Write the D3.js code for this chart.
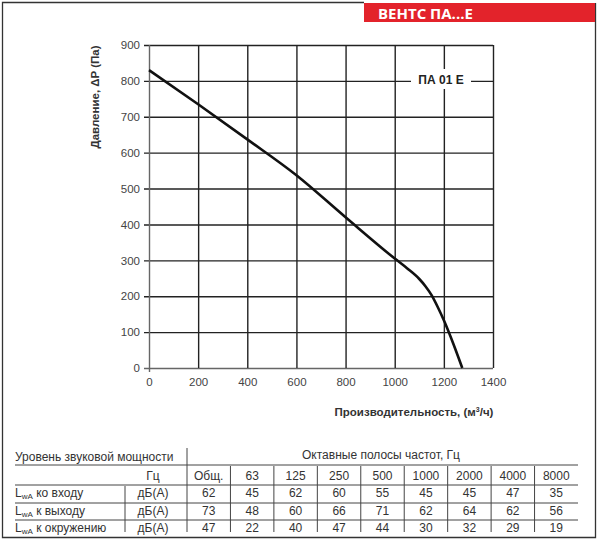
<!DOCTYPE html>
<html>
<head>
<meta charset="utf-8">
<script src="https://cdn.jsdelivr.net/npm/d3@7"></script>
<style>
  body { margin: 0; background: #fff; }
  text { font-family: "Liberation Sans", Arial, sans-serif; }
</style>
</head>
<body>
<div id="chart"></div>
<script>
// curve data
let flow = [0, 200, 400, 600, 800, 1000, 1050, 1100, 1125, 1150, 1175, 1200, 1240, 1275];
let pressure = [830, 735, 637, 537, 420, 305, 278, 248, 228, 203, 170, 133, 65, 0];
let xTicks = [0, 200, 400, 600, 800, 1000, 1200, 1400];
let yTicks = [0, 100, 200, 300, 400, 500, 600, 700, 800, 900];

// sound table
let bands = ["Общ.", "63", "125", "250", "500", "1000", "2000", "4000", "8000"];
let rowNames = ["ко входу", "к выходу", "к окружению"];
let inlet = [62, 45, 62, 60, 55, 45, 45, 47, 35];
let outlet = [73, 48, 60, 66, 71, 62, 64, 62, 56];
let around = [47, 22, 40, 47, 44, 30, 32, 29, 19];

let svgWidth = 600, svgHeight = 544;
let margin = { top: 45, left: 149 };
let chartWidth = 344, chartHeight = 323;

let svg = d3.select("#chart").append("svg")
  .attr("width", svgWidth)
  .attr("height", svgHeight);

// frame + banner
svg.append("path")
  .attr("d", "M364,2.5 H2.5 V537.5 H595.5 V3")
  .attr("fill", "none").attr("stroke", "#333").attr("stroke-width", 1.3);
svg.append("rect")
  .attr("x", 364).attr("y", 3).attr("width", 231).attr("height", 19)
  .attr("fill", "#e3232b");
svg.append("text")
  .attr("x", 378).attr("y", 18.5)
  .attr("fill", "#fff").attr("font-weight", "bold")
  .style("font-size", "15px")
  .style("font-family", "'Open Sans', sans-serif")
  .text("ВЕНТС ПА...Е");

let chartGroup = svg.append("g")
  .attr("transform", `translate(${margin.left}, ${margin.top})`);

let xScale = d3.scaleLinear().domain([0, 1400]).range([0, chartWidth]);
let yScale = d3.scaleLinear().domain([0, 900]).range([chartHeight, 0]);

// grid via axes
let leftAxis = d3.axisLeft(yScale).tickValues(yTicks).tickFormat(d3.format("d"))
  .tickSize(-chartWidth).tickSizeOuter(0).tickPadding(9);
let bottomAxis = d3.axisBottom(xScale).tickValues(xTicks).tickFormat(d3.format("d"))
  .tickSize(-chartHeight).tickSizeOuter(0).tickPadding(10);

let yg = chartGroup.append("g").call(leftAxis);
let xg = chartGroup.append("g").attr("transform", `translate(0, ${chartHeight})`).call(bottomAxis);
[yg, xg].forEach(g => {
  g.select(".domain").remove();
  g.selectAll("line").attr("stroke", "#222").attr("stroke-width", 1.4);
  g.selectAll("text").attr("fill", "#444").style("font-size", "11.5px")
    .style("font-family", "'Liberation Sans', Arial, sans-serif");
});
yg.selectAll("line").attr("x1", -5);
xg.selectAll(".tick").filter(d => d === 0).select("line").attr("y1", 4);
yg.selectAll(".tick").filter(d => d === 0).select("line").attr("stroke", "#666");
xg.selectAll(".tick").filter(d => d === 0).select("line").attr("stroke", "#666");

// model label
chartGroup.append("rect")
  .attr("x", 262).attr("y", 24).attr("width", 60).attr("height", 20)
  .attr("fill", "#fff");
chartGroup.append("text")
  .attr("x", 292).attr("y", 38.5)
  .attr("text-anchor", "middle").attr("font-weight", "bold")
  .attr("fill", "#222").style("font-size", "12px")
  .text("ПА 01 Е");

// curve
let line = d3.line()
  .x((d, i) => xScale(flow[i]))
  .y(d => yScale(d))
  .curve(d3.curveMonotoneX);
chartGroup.append("path")
  .datum(pressure)
  .attr("d", line)
  .attr("fill", "none")
  .attr("stroke", "#111")
  .attr("stroke-width", 2.6);

// axis titles
svg.append("text")
  .attr("transform", "translate(99, 97) rotate(-90)")
  .attr("text-anchor", "middle").attr("font-weight", "bold")
  .attr("fill", "#333").style("font-size", "11.5px")
  .text("Давление, ΔP (Па)");
let xt = svg.append("text")
  .attr("x", 414).attr("y", 416)
  .attr("text-anchor", "middle").attr("font-weight", "bold")
  .attr("fill", "#333").style("font-size", "11.5px");
xt.append("tspan").text("Производительность, (м");
xt.append("tspan").attr("dy", -4).style("font-size", "7px").text("3");
xt.append("tspan").attr("dy", 4).text("/ч)");

// table
let table = svg.append("g").style("font-size", "12px").attr("fill", "#333");
let colScale = d3.scaleBand().domain(bands).range([187, 578]);
let rowY = [476, 493, 511, 528];
let lineY = [465, 485, 503, 520];

lineY.forEach((y, i) => {
  table.append("line")
    .attr("x1", 15).attr("x2", 578).attr("y1", y).attr("y2", y)
    .attr("stroke", "#444").attr("stroke-width", 1);
});
table.append("line")
  .attr("x1", 187).attr("x2", 187).attr("y1", 448).attr("y2", 532)
  .attr("stroke", "#444");
table.append("line")
  .attr("x1", 125).attr("x2", 125).attr("y1", 486).attr("y2", 532)
  .attr("stroke", "#444");
bands.slice(1).forEach(b => {
  table.append("line")
    .attr("x1", colScale(b)).attr("x2", colScale(b)).attr("y1", 466).attr("y2", 532)
    .attr("stroke", "#444");
});

table.append("text").attr("x", 15).attr("y", 461).text("Уровень звуковой мощности");
table.append("text").attr("x", 381).attr("y", 459).attr("text-anchor", "middle")
  .text("Октавные полосы частот, Гц");
table.append("text").attr("x", 153).attr("y", rowY[0] + 4).attr("text-anchor", "middle").text("Гц");
bands.forEach(b => {
  table.append("text")
    .attr("x", colScale(b) + colScale.bandwidth() / 2).attr("y", rowY[0] + 4)
    .attr("text-anchor", "middle").text(b);
});

[inlet, outlet, around].forEach((vals, r) => {
  let y = rowY[r + 1] + 4;
  let lab = table.append("text").attr("x", 15).attr("y", y);
  lab.append("tspan").text("L");
  lab.append("tspan").attr("dy", 2).style("font-size", "8px").text("wA");
  lab.append("tspan").attr("dy", -2).text(" " + rowNames[r]);
  table.append("text").attr("x", 153).attr("y", y).attr("text-anchor", "middle").text("дБ(А)");
  vals.forEach((v, i) => {
    table.append("text")
      .attr("x", colScale(bands[i]) + colScale.bandwidth() / 2).attr("y", y)
      .attr("text-anchor", "middle").text(v);
  });
});
</script>
</body>
</html>
